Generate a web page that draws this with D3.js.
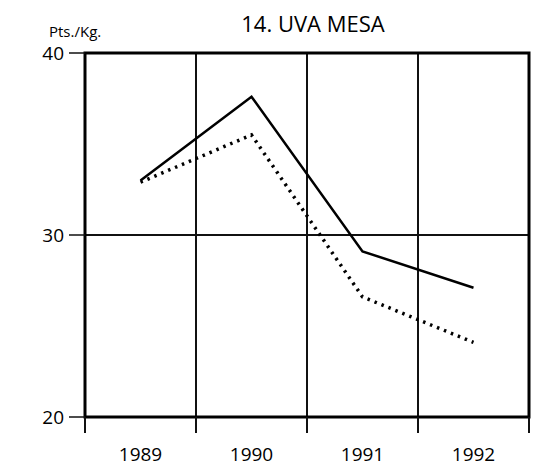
<!DOCTYPE html>
<html>
<head>
<meta charset="utf-8">
<script src="https://cdn.jsdelivr.net/npm/d3@7"></script>
<style>
  body { margin: 0; background: #fff; }
  text { font-family: "Open Sans", sans-serif; fill: #000; }
</style>
</head>
<body>
<svg id="chart"></svg>
<script>
var years = ['1989', '1990', '1991', '1992'];
var solidValues = [33.0, 37.6, 29.1, 27.1];
var dottedValues = [32.9, 35.5, 26.6, 24.1];
var yTicks = [20, 30, 40];

var width = 544;
var height = 471;
var margin = { top: 53, right: 15, bottom: 54, left: 85 };

var svg = d3.select('#chart')
  .attr('width', width)
  .attr('height', height);

var x = d3.scaleBand()
  .domain(years)
  .range([margin.left, width - margin.right])
  .paddingInner(0)
  .paddingOuter(0);

var y = d3.scaleLinear()
  .domain([20, 40])
  .range([height - margin.bottom, margin.top]);

// title + unit
svg.append('text')
  .attr('x', 313)
  .attr('y', 32)
  .attr('text-anchor', 'middle')
  .style('font-size', '22px')
  .text('14. UVA MESA');

svg.append('text')
  .attr('x', 49)
  .attr('y', 37)
  .style('font-size', '15px')
  .text('Pts./Kg.');

// vertical grid lines between years
var xEdges = years.map(function(d) { return x(d); }).concat([x.range()[1]]);
svg.selectAll('.vgrid')
  .data(xEdges.slice(1, -1))
  .enter().append('line')
  .attr('x1', function(d) { return d; })
  .attr('x2', function(d) { return d; })
  .attr('y1', y(40))
  .attr('y2', y(20))
  .attr('stroke', '#111')
  .attr('stroke-width', 2);

// horizontal grid at 30
svg.append('line')
  .attr('x1', x.range()[0])
  .attr('x2', x.range()[1])
  .attr('y1', y(30))
  .attr('y2', y(30))
  .attr('stroke', '#111')
  .attr('stroke-width', 2);

// frame
svg.append('rect')
  .attr('x', x.range()[0])
  .attr('y', y(40))
  .attr('width', x.range()[1] - x.range()[0])
  .attr('height', y(20) - y(40))
  .attr('fill', 'none')
  .attr('stroke', '#000')
  .attr('stroke-width', 3);

// y axis ticks + labels
var yAxis = svg.append('g');
yAxis.selectAll('line')
  .data(yTicks)
  .enter().append('line')
  .attr('x1', x.range()[0] - 16)
  .attr('x2', x.range()[0])
  .attr('y1', function(d) { return y(d); })
  .attr('y2', function(d) { return y(d); })
  .attr('stroke', '#111')
  .attr('stroke-width', 1.5);
yAxis.selectAll('text')
  .data(yTicks)
  .enter().append('text')
  .attr('x', x.range()[0] - 21)
  .attr('y', function(d) { return y(d); })
  .attr('dy', '0.36em')
  .attr('text-anchor', 'end')
  .style('font-size', '19px')
  .text(function(d) { return d; });

// x axis ticks + labels
svg.selectAll('.xtick')
  .data(xEdges)
  .enter().append('line')
  .attr('x1', function(d) { return d; })
  .attr('x2', function(d) { return d; })
  .attr('y1', y(20))
  .attr('y2', y(20) + 16)
  .attr('stroke', '#111')
  .attr('stroke-width', 2);

svg.selectAll('.xlabel')
  .data(years)
  .enter().append('text')
  .attr('x', function(d) { return x(d) + x.bandwidth() / 2; })
  .attr('y', 461)
  .attr('text-anchor', 'middle')
  .style('font-size', '19px')
  .text(function(d) { return d; });

// series
var line = d3.line()
  .x(function(d, i) { return x(years[i]) + x.bandwidth() / 2; })
  .y(function(d) { return y(d); });

svg.append('path')
  .datum(dottedValues)
  .attr('d', line)
  .attr('fill', 'none')
  .attr('stroke', '#000')
  .attr('stroke-width', 3.5)
  .attr('stroke-dasharray', '2.5,5');

svg.append('path')
  .datum(solidValues)
  .attr('d', line)
  .attr('fill', 'none')
  .attr('stroke', '#000')
  .attr('stroke-width', 2.5);
</script>
</body>
</html>
